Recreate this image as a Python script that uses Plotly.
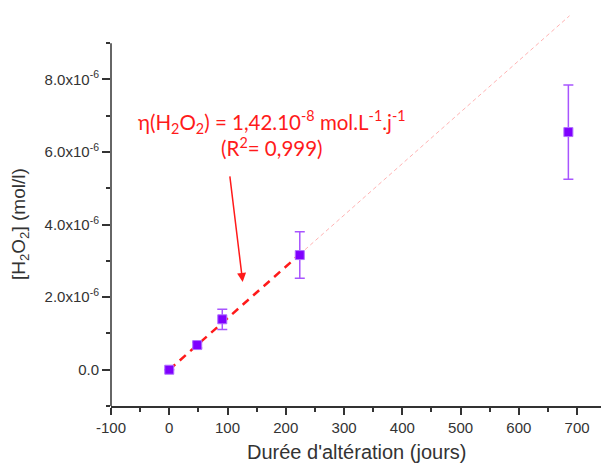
import plotly.graph_objects as go

# Data
days = [0, 48, 91, 224, 685]
h2o2 = [0.0, 0.68e-6, 1.39e-6, 3.16e-6, 6.55e-6]
h2o2_err = [0.0, 0.08e-6, 0.28e-6, 0.64e-6, 1.30e-6]

slope = 1.42e-8          # mol.L-1.j-1
fit_x = [0, 224]
fit_ext_x = [224, 687]

x_ticks = [-100, 0, 100, 200, 300, 400, 500, 600, 700]
x_tick_text = ["-100", "0", "100", "200", "300", "400", "500", "600", "700"]
x_minor = [-50, 50, 150, 250, 350, 450, 550, 650]
y_ticks = [0.0, 2e-6, 4e-6, 6e-6, 8e-6]
y_tick_text = ["0.0", "2.0x10<sup>-6</sup>", "4.0x10<sup>-6</sup>",
               "6.0x10<sup>-6</sup>", "8.0x10<sup>-6</sup>"]
y_minor = [-1e-6, 1e-6, 3e-6, 5e-6, 7e-6, 9e-6]

x_range = [-100, 741]
y_range = [-1e-6, 10.19e-6]
y_axis_top = 9e-6

axis_col = "#333333"
font_fam = "Liberation Sans, Arial, sans-serif"

fig = go.Figure()

# fit line (thick red dashed over the fitted range)
fig.add_trace(go.Scatter(
    x=fit_x, y=[slope * v for v in fit_x], mode="lines",
    line=dict(color="#ff1a1a", width=2.5, dash="8px,6px"),
    hoverinfo="skip", showlegend=False))
# extension (thin pink dashed)
fig.add_trace(go.Scatter(
    x=fit_ext_x, y=[slope * v for v in fit_ext_x], mode="lines",
    line=dict(color="#ffb3b3", width=1, dash="4px,3px"),
    hoverinfo="skip", showlegend=False))

# data points
fig.add_trace(go.Scatter(
    x=days, y=h2o2, mode="markers",
    marker=dict(symbol="square", size=9, color="#7f00ff",
                line=dict(color="#b070ff", width=1)),
    error_y=dict(type="data", array=h2o2_err, visible=True,
                 color="#a855ff", thickness=1.5, width=5),
    showlegend=False))

fig.update_layout(
    width=601, height=464,
    margin=dict(l=111, r=0, t=0, b=58),
    paper_bgcolor="white", plot_bgcolor="white",
    font=dict(family=font_fam, color=axis_col, size=15),
    xaxis=dict(range=x_range, tickmode="array", tickvals=x_ticks,
               ticktext=x_tick_text,
               showgrid=False, zeroline=False, showline=True,
               linecolor=axis_col, linewidth=1.5,
               ticks="outside", ticklen=7, tickwidth=1.5, tickcolor=axis_col,
               minor=dict(tickmode="array", tickvals=x_minor, ticks="outside",
                          ticklen=4, tickwidth=1.5, tickcolor=axis_col,
                          showgrid=False),
               tickfont=dict(size=15, color=axis_col)),
    yaxis=dict(range=y_range, tickmode="array", tickvals=y_ticks,
               ticktext=y_tick_text,
               showgrid=False, zeroline=False, showline=False,
               ticks="outside", ticklen=8, tickwidth=1.5, tickcolor=axis_col,
               minor=dict(tickmode="array", tickvals=y_minor, ticks="outside",
                          ticklen=4, tickwidth=1.5, tickcolor=axis_col,
                          showgrid=False),
               tickfont=dict(size=15, color=axis_col)),
)

# y axis line stopping at 9e-6
top_frac = (y_axis_top - y_range[0]) / (y_range[1] - y_range[0])
fig.add_shape(type="line", xref="x domain", yref="y domain",
              x0=0, x1=0, y0=0, y1=top_frac,
              line=dict(color=axis_col, width=1.5))

# axis titles
fig.add_annotation(text="Durée d'altération (jours)", xref="paper", yref="paper",
                   x=0.5, y=-0.113, xanchor="center", yanchor="middle",
                   showarrow=False, font=dict(size=20, color=axis_col, family=font_fam))
fig.add_annotation(text="[H<sub>2</sub>O<sub>2</sub>] (mol/l)", xref="paper", yref="paper",
                   x=-0.1857, y=0.448, xanchor="center", yanchor="middle",
                   textangle=-90, showarrow=False,
                   font=dict(size=19, color=axis_col, family=font_fam))

# equation text
fig.add_annotation(
    text="η(H<sub>2</sub>O<sub>2</sub>) = 1,42.10<sup>-8</sup> mol.L<sup>-1</sup>.j<sup>-1</sup><br>(R<sup>2</sup>= 0,999)",
    x=176, y=6.51e-6, xanchor="center", yanchor="middle", align="center",
    showarrow=False, font=dict(size=20.5, color="#ff1a1a", family="Lato, sans-serif"))

# arrow
fig.add_annotation(x=126, y=2.42e-6, ax=-13, ay=-107, text="",
                   showarrow=True, arrowhead=2, arrowsize=1.2, arrowwidth=1.5,
                   arrowcolor="#ff1a1a")

fig.write_html("out.html", config={"displayModeBar": False},
               post_script="document.body.style.margin='0';document.body.style.padding='0';")
